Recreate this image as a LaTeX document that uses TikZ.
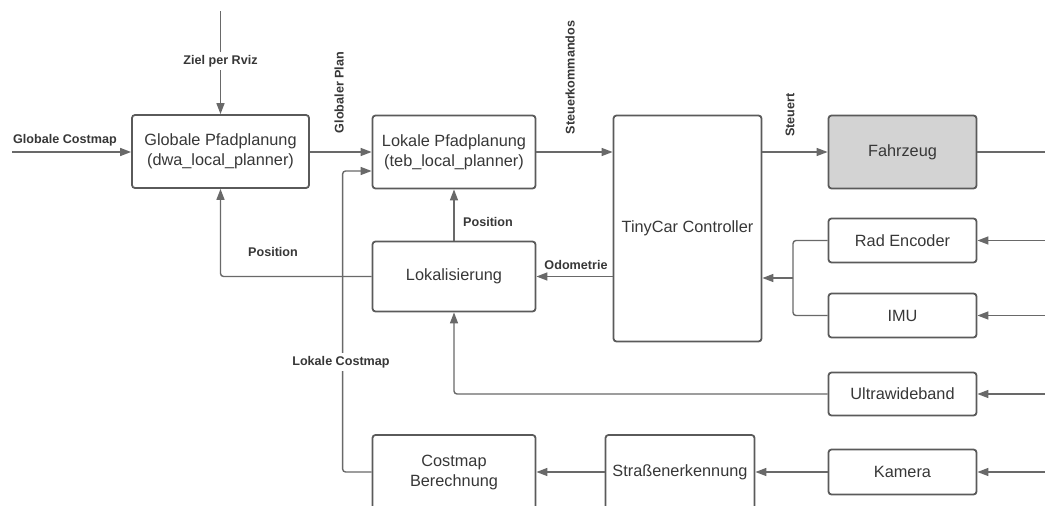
\documentclass[tikz,border=0pt]{standalone}
\usepackage{fontspec}
\setmainfont{Liberation Sans}
\usetikzlibrary{arrows.meta,calc}
\definecolor{linegray}{RGB}{105,105,105}
\definecolor{boxgray}{RGB}{90,90,90}
\definecolor{txtgray}{RGB}{55,55,55}
\definecolor{fillgray}{RGB}{211,211,211}
\tikzset{
  blk/.style={draw=boxgray, line width=1.8pt, rounded corners=3pt, text=txtgray,
    font=\fontsize{16.3}{20}\selectfont, align=center, inner sep=0pt},
  conn/.style={draw=linegray, line width=1.4pt, rounded corners=3pt},
  arr/.style={conn, -{Triangle[length=11pt,width=8pt]}},
  lbl/.style={text=txtgray, font=\bfseries\fontsize{12.6}{15}\selectfont, inner sep=1pt},
  lblw/.style={lbl, fill=white, inner sep=3pt},
}
\begin{document}
\begin{tikzpicture}[x=1pt,y=-1pt]
\useasboundingbox (0,0) rectangle (1045,506);
\clip (0,0) rectangle (1045,506);

% boxes
\node[blk, minimum width=177pt, minimum height=73pt] (glob) at (220.5,151.5) {Globale Pfadplanung\\(dwa\_local\_planner)};
\node[blk, minimum width=163pt, minimum height=73pt] (lok) at (454,152) {Lokale Pfadplanung\\(teb\_local\_planner)};
\node[blk, minimum width=148pt, minimum height=226pt] (tiny) at (687.5,228.5) {TinyCar Controller};
\node[blk, fill=fillgray, minimum width=148pt, minimum height=73pt] (fz) at (902.5,152) {Fahrzeug};
\node[blk, minimum width=148pt, minimum height=44pt] (re) at (902.5,240.5) {Rad Encoder};
\node[blk, minimum width=148pt, minimum height=44pt] (imu) at (902.5,315.5) {IMU};
\node[blk, minimum width=148pt, minimum height=43pt] (uwb) at (902.5,394) {Ultrawideband};
\node[blk, minimum width=148pt, minimum height=45pt] (kam) at (902.5,472) {Kamera};
\node[blk, minimum width=163pt, minimum height=70pt] (loc) at (454,276.5) {Lokalisierung};
\node[blk, minimum width=149pt, minimum height=74pt] (str) at (680,472) {Straßenerkennung};
\node[blk, minimum width=163pt, minimum height=74pt] (cost) at (454,472) {Costmap\\Berechnung};

% free ends
\coordinate (gcin) at (12,152);
\coordinate (ziel) at (220.5,11);
\coordinate (fzout) at (1045,152);
\coordinate (rein) at (1045,240.5);
\coordinate (imuin) at (1045,315.5);
\coordinate (uwbin) at (1045,394);
\coordinate (kamin) at (1045,472);
\coordinate (mrg) at (793,278);

% connectors
\draw[arr] (gcin) -- (gcin -| glob.west);
\draw[arr] (ziel) -- (glob.north);
\draw[arr] (glob.east |- lok.west) -- (lok.west);
\draw[arr] (cost.west) -- ++(-29,0) |- ($(lok.west)+(0,19)$);
\draw[arr] (loc.north) -- (lok.south);
\draw[arr] (loc.west) -| (glob.south);
\draw[arr] (lok.east) -- (lok.east -| tiny.west);
\draw[arr] (tiny.east |- fz.west) -- (fz.west);
\draw[conn] (fz.east) -- (fzout);
\draw[arr] (rein) -- (re.east);
\draw[arr] (imuin) -- (imu.east);
\draw[conn] (re.west) -| (mrg);
\draw[conn] (imu.west) -| (mrg);
\draw[arr] (mrg) -- (mrg -| tiny.east);
\draw[arr] (tiny.west |- loc.east) -- (loc.east);
\draw[arr] (uwbin) -- (uwb.east);
\draw[arr] (uwb.west) -| (loc.south);
\draw[arr] (kamin) -- (kam.east);
\draw[arr] (kam.west) -- (str.east);
\draw[arr] (str.west) -- (cost.east);

% labels
\node[lbl] (lgc) at (65,140) {Globale Costmap};
\node[lblw] (lziel) at (220.5,61) {Ziel per Rviz};
\node[lbl, rotate=90] (lgp) at (339,92.5) {Globaler Plan};
\node[lbl, rotate=90] (lsk) at (570,77.5) {Steuerkommandos};
\node[lbl, rotate=90] (lst) at (790,115) {Steuert};
\node[lbl] (lpos1) at (488,222) {Position};
\node[lbl] (lpos2) at (273,252) {Position};
\node[lbl] (lodo) at (576,265) {Odometrie};
\node[lblw] (llc) at (341,362) {Lokale Costmap};
\end{tikzpicture}
\end{document}
